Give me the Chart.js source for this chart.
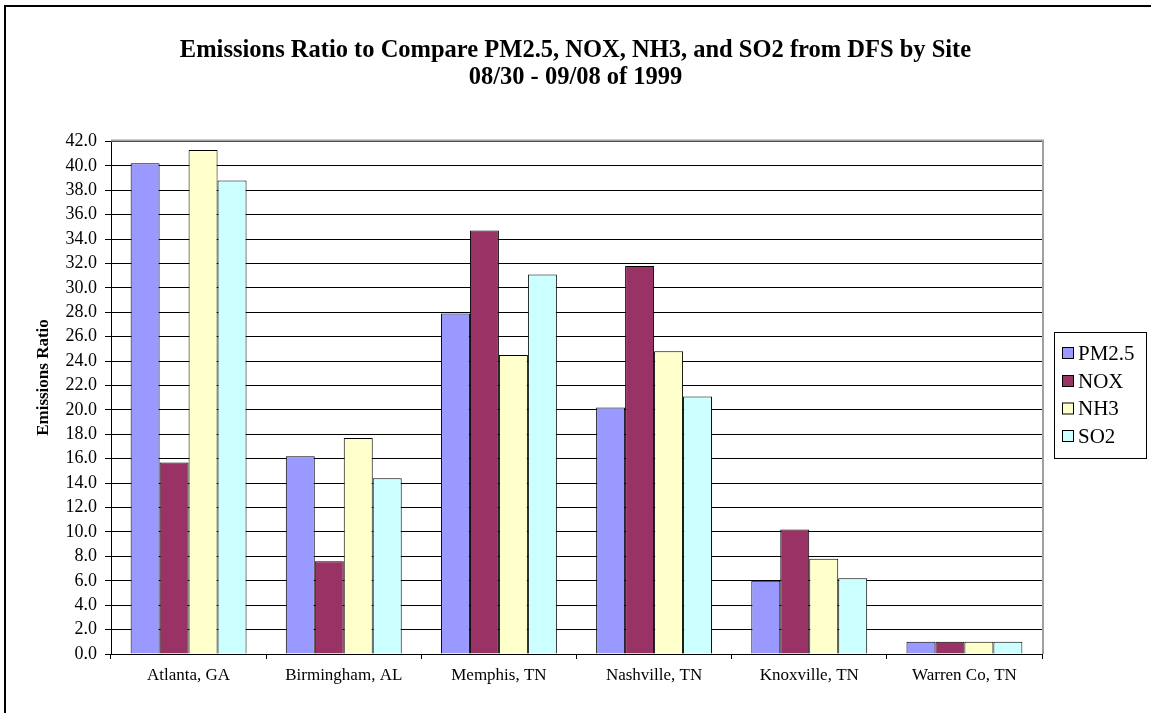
<!DOCTYPE html>
<html>
<head>
<meta charset="utf-8">
<script src="https://cdn.jsdelivr.net/npm/chart.js@4/dist/chart.umd.min.js"></script>
<style>
  html, body { margin: 0; padding: 0; background: #fff; }
  canvas { display: block; }
</style>
</head>
<body>
<canvas id="chart" width="1151" height="713" style="width:1151px;height:713px"></canvas>
<script>
// Sites along the x axis
const sites = ['Atlanta, GA', 'Birmingham, AL', 'Memphis, TN', 'Nashville, TN', 'Knoxville, TN', 'Warren Co, TN'];

// Emissions ratio per pollutant and site
const pm25 = [40.2, 16.2, 27.9, 20.2, 6.0, 1.0];
const nox  = [15.7, 7.6, 34.7, 31.8, 10.2, 1.0];
const nh3  = [41.3, 17.7, 24.5, 24.8, 7.8, 1.0];
const so2  = [38.8, 14.4, 31.1, 21.1, 6.2, 1.0];

const seriesNames = ['PM2.5', 'NOX', 'NH3', 'SO2'];
const titleLines = ['Emissions Ratio to Compare PM2.5, NOX, NH3, and SO2 from DFS by Site', '08/30 - 09/08 of 1999'];
const yTitle = 'Emissions Ratio';

const FONT = "'Liberation Serif', 'Times New Roman', serif";
const colors = ['#9999FF', '#993366', '#FFFFCC', '#CCFFFF'];

// Outer frame, plot-area frame, value-axis title and boxed legend
const decor = {
  id: 'decor',
  beforeDraw(chart) {
    const ctx = chart.ctx;
    ctx.save();
    ctx.fillStyle = '#fff';
    ctx.fillRect(0, 0, chart.width, chart.height);
    ctx.strokeStyle = '#000';
    ctx.lineWidth = 2;
    ctx.strokeRect(5, 6, chart.width + 20, chart.height + 20);
    ctx.restore();
  },
  afterDraw(chart) {
    const ctx = chart.ctx;
    const a = chart.chartArea;
    ctx.save();
    // plot area frame (top and right)
    ctx.strokeStyle = '#a0a0a0';
    ctx.lineWidth = 2;
    ctx.beginPath();
    ctx.moveTo(a.left, a.top - 1);
    ctx.lineTo(a.right + 1, a.top - 1);
    ctx.lineTo(a.right + 1, a.bottom);
    ctx.stroke();

    // value axis title
    ctx.save();
    ctx.translate(44, 377.5);
    ctx.rotate(-Math.PI / 2);
    ctx.font = 'bold 17px ' + FONT;
    ctx.fillStyle = '#000';
    ctx.textAlign = 'center';
    ctx.textBaseline = 'middle';
    ctx.fillText(yTitle, 0, 0);
    ctx.restore();

    // legend
    const bx = 1054.5, by = 332.5, bw = 92, bh = 126;
    ctx.strokeStyle = '#000';
    ctx.lineWidth = 1;
    ctx.strokeRect(bx, by, bw, bh);
    ctx.font = '21px ' + FONT;
    ctx.textBaseline = 'middle';
    ctx.textAlign = 'left';
    const rowY = [353, 381, 408.5, 436];
    chart.data.datasets.forEach((ds, i) => {
      const cy = rowY[i];
      ctx.fillStyle = ds.backgroundColor;
      ctx.fillRect(1062, cy - 6, 12, 12);
      ctx.strokeStyle = '#000';
      ctx.strokeRect(1062.5, cy - 5.5, 11, 11);
      ctx.fillStyle = '#000';
      ctx.fillText(ds.label, 1078, cy + 1);
    });
    ctx.restore();
  }
};

new Chart(document.getElementById('chart'), {
  type: 'bar',
  data: {
    labels: sites,
    datasets: [pm25, nox, nh3, so2].map((values, i) => ({
      label: seriesNames[i],
      data: values,
      yAxisID: 'y',
      backgroundColor: colors[i],
      borderColor: '#000',
      borderWidth: 1,
      borderSkipped: 'bottom',
      categoryPercentage: 0.747,
      barPercentage: 1.0
    }))
  },
  options: {
    responsive: false,
    animation: false,
    devicePixelRatio: 1,
    layout: { padding: 0 },
    plugins: {
      legend: { display: false },
      tooltip: { enabled: false },
      title: {
        display: true,
        text: titleLines,
        color: '#000',
        font: { family: FONT, size: 24.5, weight: 'bold', lineHeight: 1.1 },
        padding: { top: 37.5, bottom: 50 }
      }
    },
    scales: {
      x: {
        offset: true,
        grid: {
          display: true,
          offset: true,
          drawOnChartArea: false,
          drawTicks: true,
          tickLength: 5,
          color: '#000'
        },
        border: { display: true, color: '#000', width: 1 },
        ticks: {
          color: '#000',
          font: { family: FONT, size: 17 },
          padding: 6,
          maxRotation: 0,
          autoSkip: false
        },
        afterFit(scale) { scale.height = 59; }
      },
      y: {
        position: 'left',
        min: 0,
        max: 42,
        grid: {
          color: '#000',
          lineWidth: 1,
          drawTicks: true,
          tickLength: 6
        },
        border: { display: true, color: '#000', width: 1 },
        ticks: {
          stepSize: 2,
          autoSkip: false,
          color: '#000',
          font: { family: FONT, size: 18 },
          padding: 8,
          callback: v => Number(v).toFixed(1)
        },
        afterFit(scale) { scale.width = 111; }
      },
      // empty right-hand scale that keeps room for the legend box
      legendRoom: {
        type: 'linear',
        position: 'right',
        display: true,
        grid: { display: false, drawTicks: false },
        border: { display: false },
        ticks: { display: false },
        afterFit(scale) { scale.width = 109; }
      }
    }
  },
  plugins: [decor]
});
</script>
</body>
</html>
